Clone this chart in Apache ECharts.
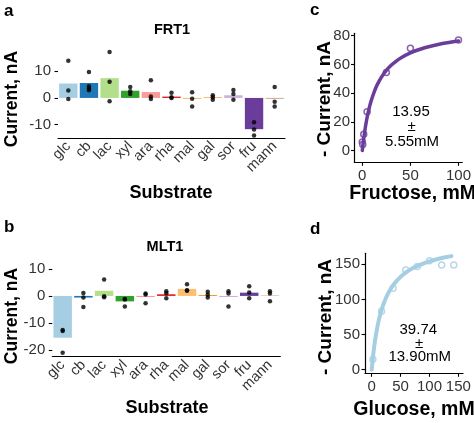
<!DOCTYPE html>
<html>
<head>
<meta charset="utf-8">
<script src="https://cdn.jsdelivr.net/npm/echarts@6/dist/echarts.min.js"></script>
<style>
html,body{margin:0;padding:0;background:#fff;}
#chart{width:474px;height:423px;}
</style>
</head>
<body>
<div id="chart"></div>
<script>
// ---------- data ----------
const substrates = ['glc','cb','lac','xyl','ara','rha','mal','gal','sor','fru','mann'];
const substrateColors = ['#A6CEE3','#1F78B4','#B2DF8A','#33A02C','#FB9A99','#E31A1C','#FDBF6F','#FF7F00','#CAB2D6','#6A3D9A','#B15928'];

const frt1Means = [5.4, 5.6, 7.4, 2.7, 2.2, 0.5, -0.4, 0.2, 1.0, -11.7, -0.2];
const frt1Points = [
  [13.9, 2.8, -0.4], [9.7, 4.4, 3.5, 2.9], [17.2, 6.1, -1.2], [4.1, 2.5, 1.5],
  [6.6, 0.5, -0.4], [1.9, 0.3, 0.0], [2.1, -0.3, -3.2], [1.0, 0.3, -0.7],
  [3.0, 1.5, -0.7], [-9.1, -11.8, -14.1], [4.1, -1.4, -3.2]
];

const mlt1Means = [-15.4, -0.6, 1.9, -2.0, -0.4, 0.6, 2.6, 0.3, -0.4, 1.2, 0.1];
const mlt1Points = [
  [-12.6, -12.9, -20.9], [1.1, -0.6, -4.1], [6.1, -0.1, -0.5], [-1.1, -1.3, -3.9],
  [0.5, -2.7, 0.9], [1.7, -0.9, 1.0], [4.3, 2.1, 1.9], [1.5, 0.4, -0.6],
  [1.7, 0.9, -3.9], [3.6, 1.3, -0.9], [1.7, 0.9, -2.0]
];

const fruX = [0, 0.5, 1.5, 5, 25, 50, 100];
const fruY = [6.0, 4.2, 11.4, 27.0, 54.4, 71.2, 77.0];
const fruCurveX = [0, 0.5, 1, 1.5, 2, 3, 4, 5, 6, 7.5, 9, 10, 12.5, 15, 17.5, 20, 25, 30, 35, 40, 50, 60, 70, 80, 90, 100];
const fruCurveY = [0, 3.0, 5.8, 8.5, 10.9, 15.4, 19.4, 23.0, 26.2, 30.4, 34.1, 36.3, 41.1, 45.1, 48.4, 51.3, 55.8, 59.4, 62.2, 64.5, 68.0, 70.6, 72.5, 74.1, 75.3, 76.4];

const glcX = [2, 17, 37, 59, 79, 100, 121, 142];
const glcY = [15, 83, 116, 142, 147, 155, 149, 149];
const glcCurveX = [0, 1, 2, 3, 5, 7.5, 10, 12.5, 15, 17.5, 20, 25, 30, 40, 50, 60, 70, 80, 90, 100, 110, 120, 130, 138];
const glcCurveY = [0, 8.8, 16.8, 24.1, 37.0, 50.5, 61.7, 71.2, 79.3, 86.3, 92.5, 102.8, 111.0, 123.3, 132.1, 138.8, 143.9, 148.0, 151.4, 154.2, 156.5, 158.6, 160.3, 161.6];

const frtTicks = [-10, 0, 10];
const mltTicks = [-20, -10, 0, 10];
const fruYTicks = [0, 20, 40, 60, 80];
const fruXTicks = [0, 50, 100];
const glcYTicks = [0, 50, 100, 150];
const glcXTicks = [0, 50, 100, 150];

// ---------- chart ----------
const FONT = '"Liberation Sans", Arial, sans-serif';
const chart = echarts.init(document.getElementById('chart'), null, {renderer: 'canvas'});

const axisLine = {onZero: false, lineStyle: {color: '#000', width: 1.2}};
function tick(vals) { return {show: true, length: 3.5, lineStyle: {color: '#000', width: 1.1}, customValues: vals}; }
function lab(vals, size, margin) {
  return {customValues: vals, interval: 0, fontSize: size, color: '#333', fontFamily: FONT, margin: margin, hideOverlap: false};
}

function catAxis(gi) {
  return {
    gridIndex: gi, type: 'category', data: substrates,
    axisLine: axisLine,
    axisTick: {alignWithLabel: true, length: 3.5, lineStyle: {color: '#000', width: 1.1}},
    axisLabel: {rotate: 45, interval: 0, fontSize: 14.5, color: '#333', fontFamily: FONT, margin: 6},
    splitLine: {show: false}
  };
}
function valAxis(gi, min, max, ticks, size, margin) {
  return {
    gridIndex: gi, type: 'value', min: min, max: max,
    axisLine: axisLine, axisTick: tick(ticks), axisLabel: lab(ticks, size, margin),
    splitLine: {show: false}
  };
}
function pts(arr) {
  const out = [];
  arr.forEach((vals, i) => vals.forEach(v => out.push([substrates[i], v])));
  return out;
}
function zip(a, b) { return a.map((x, i) => [x, b[i]]); }
function bars(means) {
  return means.map((v, i) => ({value: v, itemStyle: {color: substrateColors[i]}}));
}

function txt(x, y, text, size, bold, opts) {
  return Object.assign({
    type: 'text', x: x, y: y, z: 100,
    style: {text: text, fontSize: size, fontWeight: bold ? 'bold' : 'normal', fontFamily: FONT,
            fill: '#000', textAlign: 'center', textVerticalAlign: 'middle'}
  }, opts || {});
}
function rtxt(x, y, text, size) {
  return txt(x, y, text, size, true, {rotation: Math.PI / 2});
}
function ltxt(x, y, text, size, bold) {
  const t = txt(x, y, text, size, bold);
  t.style.textAlign = 'left';
  return t;
}

// panel c: main axis range -8.2..81.7 on a 129 px tall grid (top 33.3)
const cTop = 33.3, cH = 129, cMin = -8.2, cMax = 81.7;
function cPix(v) { return cTop + cH - (v - cMin) / (cMax - cMin) * cH; }
const cLabTop = cPix(fruYTicks[fruYTicks.length - 1]);
const cLabH = cPix(fruYTicks[0]) - cLabTop;

const fruYMain = valAxis(2, cMin, cMax, fruYTicks, 15, 4.5);
fruYMain.axisTick = {show: false};
fruYMain.axisLabel = {show: false};

const option = {
  animation: false,
  backgroundColor: '#fff',
  grid: [
    {left: 58, top: 48, width: 227, height: 90},
    {left: 52.3, top: 265, width: 228, height: 91.7},
    {left: 354.5, top: cTop, width: 108.5, height: cH},
    {left: 365, top: 253.3, width: 98, height: 120},
    {left: 354.5, top: cLabTop, width: 108.5, height: cLabH}
  ],
  xAxis: [
    catAxis(0),
    catAxis(1),
    valAxis(2, -8.1, 104, fruXTicks, 15, 6),
    valAxis(3, -11.6, 158, glcXTicks, 15, 6),
    {gridIndex: 4, type: 'value', show: false, min: 0, max: 1}
  ],
  yAxis: [
    valAxis(0, -15, 18.7, frtTicks, 15, 7),
    valAxis(1, -22.4, 11.4, mltTicks, 15, 7),
    fruYMain,
    valAxis(3, -5.1, 165.6, glcYTicks, 15, 5),
    {gridIndex: 4, type: 'value', min: fruYTicks[0], max: fruYTicks[fruYTicks.length - 1], interval: 20,
     axisLine: {show: false, onZero: false},
     axisTick: {show: true, length: 3.5, lineStyle: {color: '#000', width: 1.1}},
     axisLabel: {show: true, fontSize: 15, color: '#333', fontFamily: FONT, margin: 4.5, hideOverlap: false},
     splitLine: {show: false}}
  ],
  series: [
    {type: 'bar', xAxisIndex: 0, yAxisIndex: 0, data: bars(frt1Means), barWidth: '89%'},
    {type: 'scatter', xAxisIndex: 0, yAxisIndex: 0, data: pts(frt1Points), symbolSize: 4.5,
     itemStyle: {color: '#000'}},
    {type: 'bar', xAxisIndex: 1, yAxisIndex: 1, data: bars(mlt1Means), barWidth: '89%'},
    {type: 'scatter', xAxisIndex: 1, yAxisIndex: 1, data: pts(mlt1Points), symbolSize: 4.5,
     itemStyle: {color: '#000'}},
    {type: 'line', xAxisIndex: 2, yAxisIndex: 2, data: zip(fruCurveX, fruCurveY), smooth: 0.3,
     showSymbol: false, lineStyle: {color: '#6A3D9A', width: 3.5, cap: 'round', join: 'round'}},
    {type: 'scatter', xAxisIndex: 2, yAxisIndex: 2, data: zip(fruX, fruY), symbolSize: 6,
     itemStyle: {color: '#fff', borderColor: '#6A3D9A', borderWidth: 1.5}},
    {type: 'line', xAxisIndex: 3, yAxisIndex: 3, data: zip(glcCurveX, glcCurveY), smooth: 0.3,
     showSymbol: false, lineStyle: {color: '#A6CEE3', width: 4, cap: 'round', join: 'round'}},
    {type: 'scatter', xAxisIndex: 3, yAxisIndex: 3, data: zip(glcX, glcY), symbolSize: 6,
     itemStyle: {color: '#fff', borderColor: '#A6CEE3', borderWidth: 1.5}}
  ],
  graphic: [
    ltxt(4, 11, 'a', 17, true),
    txt(172, 30, 'FRT1', 14.5, true),
    rtxt(12.5, 99, 'Current, nA', 17.5),
    txt(171, 193, 'Substrate', 18, true),

    ltxt(4, 227, 'b', 17, true),
    txt(165, 246.5, 'MLT1', 14.5, true),
    rtxt(12, 316, 'Current, nA', 17.5),
    txt(167, 408.5, 'Substrate', 18, true),

    ltxt(310, 10, 'c', 17, true),
    rtxt(325, 99, '- Current, nA', 19),
    ltxt(349.3, 193.3, 'Fructose, mM', 19.5, true),
    txt(411, 112.3, '13.95', 15, false),
    txt(411.5, 126.7, '±', 15, false),
    txt(412, 141.7, '5.55mM', 15, false),

    ltxt(310, 229, 'd', 17, true),
    rtxt(325.5, 317, '- Current, nA', 19),
    ltxt(353.3, 410, 'Glucose, mM', 19.5, true),
    txt(418.3, 330, '39.74', 15, false),
    txt(419, 344.3, '±', 15, false),
    txt(419.7, 356.7, '13.90mM', 15, false)
  ]
};
chart.setOption(option);
</script>
</body>
</html>
